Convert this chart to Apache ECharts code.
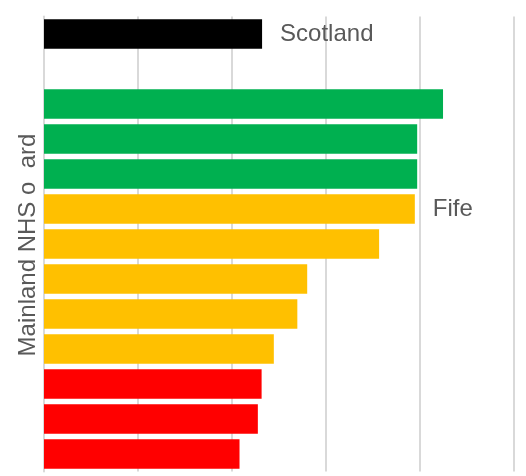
<!DOCTYPE html>
<html>
<head>
<meta charset="utf-8">
<script src="https://cdn.jsdelivr.net/npm/echarts@6/dist/echarts.min.js"></script>
<style>
  html, body { margin: 0; padding: 0; background: #ffffff; }
  #chart { width: 526px; height: 476px; }
</style>
</head>
<body>
<div id="chart"></div>
<script>
// Rows from top to bottom: the Scotland total, a spacer row, then the mainland boards.
const rowLabels = ['Scotland', '', '', '', '', 'Fife', '', '', '', '', '', '', ''];
const values = [46.4, null, 84.9, 79.4, 79.4, 78.9, 71.3, 56.0, 53.9, 48.9, 46.3, 45.5, 41.6];
const status = ['total', null, 'green', 'green', 'green', 'amber', 'amber', 'amber', 'amber', 'amber', 'red', 'red', 'red'];

const statusColors = { total: '#000000', green: '#00B050', amber: '#FFC000', red: '#FF0000' };
const textFont = '"Liberation Sans", Arial, sans-serif';

const chart = echarts.init(document.getElementById('chart'), null, { renderer: 'canvas' });

chart.setOption({
  animation: false,
  backgroundColor: '#ffffff',
  grid: { left: 44, right: 12, top: 16.5, bottom: 4.5, containLabel: false },
  xAxis: {
    type: 'value',
    min: 0,
    max: 100,
    interval: 20,
    axisLabel: { show: false },
    axisTick: { show: false },
    axisLine: { show: false },
    splitLine: { show: true, lineStyle: { color: '#D9D9D9', width: 2 } }
  },
  yAxis: {
    type: 'category',
    inverse: true,
    data: rowLabels.map((_, i) => i),
    axisLabel: { show: false },
    axisTick: { show: false },
    axisLine: { show: true, lineStyle: { color: '#D9D9D9', width: 2 } }
  },
  graphic: [{
    type: 'text',
    x: 28,
    y: 245,
    rotation: Math.PI / 2,
    style: {
      text: 'Mainland NHS o  ard',
      fill: '#595959',
      font: '24px ' + textFont,
      textAlign: 'center',
      textVerticalAlign: 'middle'
    }
  }],
  series: [{
    type: 'bar',
    barCategoryGap: '16%',
    data: values.map((v, i) => ({
      value: v,
      itemStyle: { color: status[i] ? statusColors[status[i]] : 'transparent' }
    })),
    label: {
      show: true,
      position: 'right',
      distance: 18,
      formatter: p => rowLabels[p.dataIndex],
      color: '#595959',
      fontSize: 24,
      fontFamily: textFont
    }
  }]
});
</script>
</body>
</html>
